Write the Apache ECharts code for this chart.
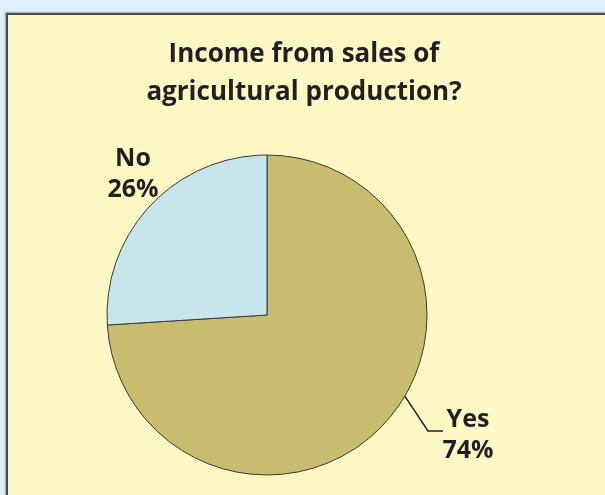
<!DOCTYPE html>
<html>
<head>
<meta charset="utf-8">
<script src="https://cdn.jsdelivr.net/npm/echarts@6/dist/echarts.min.js"></script>
<style>
html,body{margin:0;padding:0;background:#dff1fd;}
#chart{width:605px;height:495px;}
</style>
</head>
<body>
<div id="chart"></div>
<script>
// Data
var categories = ['Yes', 'No'];
var values = [74, 26];
var percentLabels = ['74%', '26%'];
var titleText = 'Income from sales of\nagricultural production?';

// Layout constants
var CX = 267, CY = 315, R = 160;
var colors = ['#c8bc6f', '#c6e6eb'];
var textColor = '#231f20';
var FONT = 'Open Sans';

var chart = echarts.init(document.getElementById('chart'));

var pieData = categories.map(function (c, i) {
  return {
    name: c,
    value: values[i],
    itemStyle: { color: colors[i] },
    labelLine: { show: i === 0 }
  };
});

function labelLayout(params) {
  if (params.dataIndex === 0) {
    var a = 30.5 * Math.PI / 180;
    var sx = CX + R * Math.cos(a), sy = CY + R * Math.sin(a);
    return {
      x: 468, y: 435, align: 'center', verticalAlign: 'middle',
      labelLinePoints: [[sx, sy], [428, 431], [443, 431]]
    };
  }
  return { x: 133, y: 174, align: 'center', verticalAlign: 'middle' };
}

chart.setOption({
  backgroundColor: '#dff1fd',
  animation: false,
  graphic: [{
    type: 'rect',
    shape: { x: 7, y: 14, width: 620, height: 500 },
    style: {
      fill: '#fff8c4', stroke: '#4a4a4a', lineWidth: 2,
      shadowColor: 'rgba(0,0,0,0.25)', shadowBlur: 2, shadowOffsetX: -1, shadowOffsetY: -1
    },
    z: -10
  }],
  title: {
    text: titleText,
    left: 299, top: 31, textAlign: 'center',
    textStyle: {
      fontFamily: FONT, fontWeight: 'bold', fontSize: 26,
      lineHeight: 38, color: textColor
    }
  },
  series: [{
    type: 'pie',
    center: [CX, CY],
    radius: [0, R],
    startAngle: 90,
    clockwise: true,
    data: pieData,
    itemStyle: { borderColor: '#3a3a3a', borderWidth: 1 },
    label: {
      show: true,
      formatter: function (p) { return p.name + '\n' + percentLabels[p.dataIndex]; },
      fontFamily: FONT, fontWeight: 'bold', fontSize: 25,
      lineHeight: 31, color: textColor, align: 'center'
    },
    labelLine: { show: true, lineStyle: { color: textColor, width: 1.5 } },
    labelLayout: labelLayout,
    emphasis: { disabled: true }
  }]
});
</script>
</body>
</html>
